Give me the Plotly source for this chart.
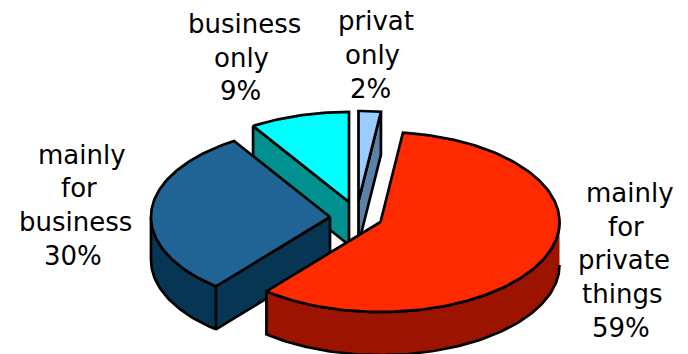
import math
import plotly.graph_objects as go

# Survey shares, clockwise from twelve o'clock
categories = ["privat only", "mainly for private things", "mainly for business", "business only"]
shares = [2, 59, 30, 9]

# Each label is stacked line by line, with the value as its last line
label_lines = [
    ["privat", "only", "2%"],
    ["mainly", "for", "private", "things", "59%"],
    ["mainly", "for", "business", "30%"],
    ["business", "only", "9%"],
]
line_centers = [
    [375.5, 372.5, 370],
    [630, 626, 624, 622, 621],
    [81.5, 79, 75, 73],
    [244, 241.5, 240],
]
first_baselines = [30.5, 202, 163.5, 33]
LINE_STEP = 33.7
FONT_SIZE = 26

top_colors = ["#99CCFF", "#FF2A00", "#1F6494", "#00FFFF"]
wall_colors = ["#5C80A6", "#9C1400", "#073654", "#009090"]

# Exploded wedge apexes and the tilted-disc geometry, in page pixels
apex_x = [358.5, 380.5, 330, 349]
apex_y = [201, 222, 217, 202]
RX, RY, DEPTH = 179, 90, 43
OUTLINE = 2.7


def rim(cx, cy, deg, drop=0):
    t = math.radians(deg)
    return cx + RX * math.sin(t), cy - RY * math.cos(t) + drop


def arc(cx, cy, a0, a1, drop=0):
    n = max(2, int(abs(a1 - a0)) + 1)
    return [rim(cx, cy, a0 + (a1 - a0) * i / (n - 1), drop) for i in range(n)]


def polygon(points, color):
    return go.Scatter(
        x=[p[0] for p in points],
        y=[p[1] for p in points],
        mode="lines",
        fill="toself",
        fillcolor=color,
        line=dict(color="black", width=OUTLINE),
        hoverinfo="skip",
        showlegend=False,
        name="",
    )


fig = go.Figure()

# Cumulative start/end angle of each slice
spans = []
running = 0.0
for s in shares:
    spans.append((running, running + s * 3.6))
    running += s * 3.6

# Painter's order: rear slices first, the large front slice last
for i in [0, 3, 2, 1]:
    a0, a1 = spans[i]
    cx, cy = apex_x[i], apex_y[i]

    # Outer curved wall, only where the rim faces the viewer (90..270 degrees)
    lo, hi = max(a0, 90), min(a1, 270)
    if lo < hi:
        fig.add_trace(polygon(arc(cx, cy, lo, hi) + arc(cx, cy, hi, lo, DEPTH), wall_colors[i]))

    # Radial wall along the slice edge that faces the viewer
    if i != 1:
        edge = a1 if i == 0 else a0
        p = rim(cx, cy, edge)
        fig.add_trace(polygon([(cx, cy), p, (p[0], p[1] + DEPTH), (cx, cy + DEPTH), (cx, cy)], wall_colors[i]))

    # Top face of the wedge
    fig.add_trace(polygon([(cx, cy)] + arc(cx, cy, a0, a1) + [(cx, cy)], top_colors[i]))

for lines, centers, base in zip(label_lines, line_centers, first_baselines):
    for n, (text, x) in enumerate(zip(lines, centers)):
        fig.add_annotation(
            x=x, y=base + n * LINE_STEP, text=text, showarrow=False,
            xanchor="center", yanchor="bottom", yshift=-8,
            font=dict(family="DejaVu Sans", size=FONT_SIZE, color="black"),
        )

fig.update_layout(
    width=688, height=354,
    margin=dict(l=0, r=0, t=0, b=0),
    paper_bgcolor="white", plot_bgcolor="white",
    xaxis=dict(range=[0, 688], visible=False, fixedrange=True),
    yaxis=dict(range=[354, 0], visible=False, fixedrange=True),
    showlegend=False,
)

fig.write_html("out.html", config=dict(displayModeBar=False))
